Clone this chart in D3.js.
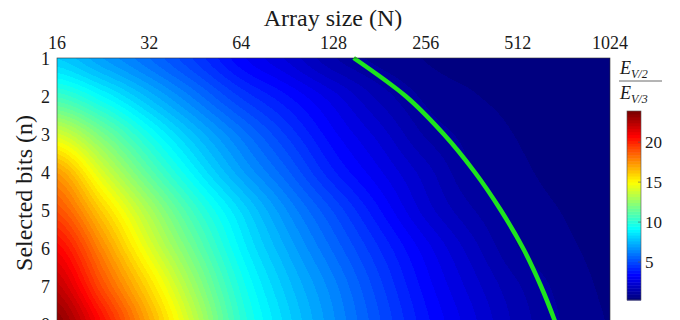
<!DOCTYPE html>
<html>
<head>
<meta charset="utf-8">
<script src="https://cdn.jsdelivr.net/npm/d3@7"></script>
<style>
  body { margin: 0; background: #fff; }
  svg { display: block; }
  .lbl { font-family: "Liberation Serif", "DejaVu Serif", serif; fill: #1a1a1a; }
</style>
</head>
<body>
<div id="chart"></div>
<script>
// array sizes sampled along x (N), half-octave steps
const sizes = [16, 22.6, 32, 45.3, 64, 90.5, 128, 181, 256, 362, 512, 724, 1024];
// selected bits (rows)
const bits = [1, 2, 3, 4, 5, 6, 7, 8];
// E_V/2 / E_V/3, one row per n
const ratio = [
  [8.0, 6.9, 5.8, 4.6, 3.3, 2.4, 1.4, 0.85, 0.6, 0.47, 0.36, 0.3, 0.25],
  [10.5, 9.1, 7.5, 6.0, 4.6, 3.6, 2.6, 1.6, 0.9, 0.65, 0.5, 0.38, 0.3],
  [14.0, 11.8, 9.5, 7.6, 6.0, 4.6, 3.3, 2.3, 1.3, 0.85, 0.6, 0.45, 0.35],
  [17.2, 14.0, 11.2, 8.9, 7.0, 5.5, 4.0, 2.9, 1.9, 1.0, 0.7, 0.5, 0.4],
  [19.0, 16.0, 13.0, 10.4, 8.3, 6.5, 5.0, 3.6, 2.3, 1.4, 0.85, 0.6, 0.45],
  [20.8, 17.6, 14.3, 11.5, 9.0, 7.2, 5.7, 4.3, 3.0, 1.9, 1.0, 0.7, 0.5],
  [22.2, 19.0, 15.8, 12.6, 9.7, 7.8, 6.3, 4.8, 3.4, 2.3, 1.4, 0.85, 0.55],
  [23.5, 20.5, 17.0, 13.5, 10.2, 8.2, 6.6, 5.1, 3.7, 2.6, 1.6, 0.95, 0.6]
];
// green curve (ratio = 1)
const curveN = [149, 220, 293, 370, 450, 532, 609, 682, 752];
const curveBits = [1, 2, 3, 4, 5, 6, 7, 8, 9];

const xTicks = [16, 32, 64, 128, 256, 512, 1024];
const yTicks = [1, 2, 3, 4, 5, 6, 7, 8];
const cbTicks = [5, 10, 15, 20];
const cbRange = [0.25, 23.9];

const width = 680, height = 320;
const plot = { left: 57, right: 610, top: 58, bottom: 324 };

const svg = d3.select('#chart').append('svg')
  .attr('width', width)
  .attr('height', height);

const x = d3.scaleLog().base(2).domain([16, 1024]).range([plot.left, plot.right]);
const y = d3.scaleLinear().domain([1, 8]).range([plot.top, plot.bottom]);

// jet colormap, 64 steps like matlab
const clamp = v => Math.max(0, Math.min(1, v));
function jet(t) {
  const i = Math.max(0, Math.min(63, Math.floor(t * 64)));
  const s = i / 63;
  const r = clamp(1.5 - Math.abs(4 * s - 3));
  const g = clamp(1.5 - Math.abs(4 * s - 2));
  const b = clamp(1.5 - Math.abs(4 * s - 1));
  return [Math.round(r * 255), Math.round(g * 255), Math.round(b * 255)];
}
const color = d3.scaleLinear().domain(cbRange).range([0, 1]).clamp(true);

// smooth (catmull-rom) lookup in (log2 N, n)
const logs = sizes.map(Math.log2);
function cr(p0, p1, p2, p3, t) {
  const t2 = t * t, t3 = t2 * t;
  return 0.5 * (2 * p1 + (-p0 + p2) * t + (2 * p0 - 5 * p1 + 4 * p2 - p3) * t2 + (-p0 + 3 * p1 - 3 * p2 + p3) * t3);
}
function along(arr, i, f) {
  const g = k => arr[Math.max(0, Math.min(arr.length - 1, k))];
  return cr(g(i - 1), g(i), g(i + 1), g(i + 2), f);
}
function lookup(N, n) {
  const lx = Math.log2(N);
  let i = d3.bisectRight(logs, lx) - 1;
  i = Math.max(0, Math.min(logs.length - 2, i));
  const fx = clamp((lx - logs[i]) / (logs[i + 1] - logs[i]));
  let j = Math.floor(n) - 1;
  j = Math.max(0, Math.min(bits.length - 2, j));
  const fy = clamp((n - bits[j]) / (bits[j + 1] - bits[j]));
  const col = ratio.map(row => along(row, i, fx));
  return along(col, j, fy);
}

// heatmap drawn into a canvas, then put in the svg
const pw = plot.right - plot.left, ph = height - plot.top;
const canvas = document.createElement('canvas');
canvas.width = pw; canvas.height = ph;
const ctx = canvas.getContext('2d');
const img = ctx.createImageData(pw, ph);
for (let py = 0; py < ph; py++) {
  const n = y.invert(plot.top + py + 0.5);
  for (let px = 0; px < pw; px++) {
    const N = x.invert(plot.left + px + 0.5);
    const c = jet(color(lookup(N, n)));
    const k = (py * pw + px) * 4;
    img.data[k] = c[0]; img.data[k + 1] = c[1]; img.data[k + 2] = c[2]; img.data[k + 3] = 255;
  }
}
ctx.putImageData(img, 0, 0);

svg.append('image')
  .attr('x', plot.left).attr('y', plot.top)
  .attr('width', pw).attr('height', ph)
  .attr('preserveAspectRatio', 'none')
  .attr('href', canvas.toDataURL());

// green line
const line = d3.line()
  .x((d, i) => x(curveN[i]))
  .y(d => y(d))
  .curve(d3.curveMonotoneY);
svg.append('path')
  .datum(curveBits)
  .attr('d', line)
  .attr('fill', 'none')
  .attr('stroke', '#1ee51e')
  .attr('stroke-width', 4.5);

// frame
svg.append('rect')
  .attr('x', plot.left).attr('y', plot.top)
  .attr('width', pw).attr('height', plot.bottom - plot.top)
  .attr('fill', 'none').attr('stroke', '#333').attr('stroke-width', 0.6);

// top axis
svg.append('g')
  .selectAll('text')
  .data(xTicks)
  .join('text')
    .attr('class', 'lbl')
    .attr('x', d => x(d))
    .attr('y', 49)
    .attr('text-anchor', 'middle')
    .attr('font-size', 18)
    .text(d => d);

svg.append('text')
  .attr('class', 'lbl')
  .attr('x', 333).attr('y', 26)
  .attr('text-anchor', 'middle')
  .attr('font-size', 24)
  .text('Array size (N)');

// left axis
svg.append('g')
  .selectAll('text')
  .data(yTicks)
  .join('text')
    .attr('class', 'lbl')
    .attr('x', 50)
    .attr('y', d => y(d) + 7)
    .attr('text-anchor', 'end')
    .attr('font-size', 18)
    .text(d => d);

svg.append('text')
  .attr('class', 'lbl')
  .attr('transform', 'translate(32,193) rotate(-90)')
  .attr('text-anchor', 'middle')
  .attr('font-size', 24)
  .text('Selected bits (n)');

// colorbar
const cb = { x: 627, w: 14, top: 111, bottom: 300 };
const cy = d3.scaleLinear().domain(cbRange).range([cb.bottom, cb.top]);
const steps = d3.range(64);
const stepH = (cb.bottom - cb.top) / 64;
svg.append('g')
  .selectAll('rect')
  .data(steps)
  .join('rect')
    .attr('x', cb.x)
    .attr('y', d => cb.bottom - (d + 1) * stepH)
    .attr('width', cb.w)
    .attr('height', stepH + 0.5)
    .attr('fill', d => { const c = jet((d + 0.5) / 64); return `rgb(${c[0]},${c[1]},${c[2]})`; });
svg.append('rect')
  .attr('x', cb.x).attr('y', cb.top)
  .attr('width', cb.w).attr('height', cb.bottom - cb.top)
  .attr('fill', 'none').attr('stroke', '#555').attr('stroke-width', 0.6);

svg.append('g')
  .selectAll('line')
  .data(cbTicks)
  .join('line')
    .attr('x1', cb.x + cb.w - 3).attr('x2', cb.x + cb.w)
    .attr('y1', d => cy(d)).attr('y2', d => cy(d))
    .attr('stroke', '#555').attr('stroke-width', 0.6);

svg.append('g')
  .selectAll('text')
  .data(cbTicks)
  .join('text')
    .attr('class', 'lbl')
    .attr('x', 645)
    .attr('y', d => cy(d) + 6)
    .attr('font-size', 17)
    .text(d => d);

// colorbar title as a fraction
const frac = svg.append('g');
const num = frac.append('text').attr('class', 'lbl').attr('x', 620).attr('y', 74).attr('font-size', 18);
num.append('tspan').attr('font-style', 'italic').text('E');
num.append('tspan').attr('font-style', 'italic').attr('font-size', 12).attr('dy', 4).text('V/2');
frac.append('line')
  .attr('x1', 619).attr('x2', 662).attr('y1', 81).attr('y2', 81)
  .attr('stroke', '#444').attr('stroke-width', 0.8);
const den = frac.append('text').attr('class', 'lbl').attr('x', 620).attr('y', 99).attr('font-size', 18);
den.append('tspan').attr('font-style', 'italic').text('E');
den.append('tspan').attr('font-style', 'italic').attr('font-size', 12).attr('dy', 4).text('V/3');
</script>
</body>
</html>
